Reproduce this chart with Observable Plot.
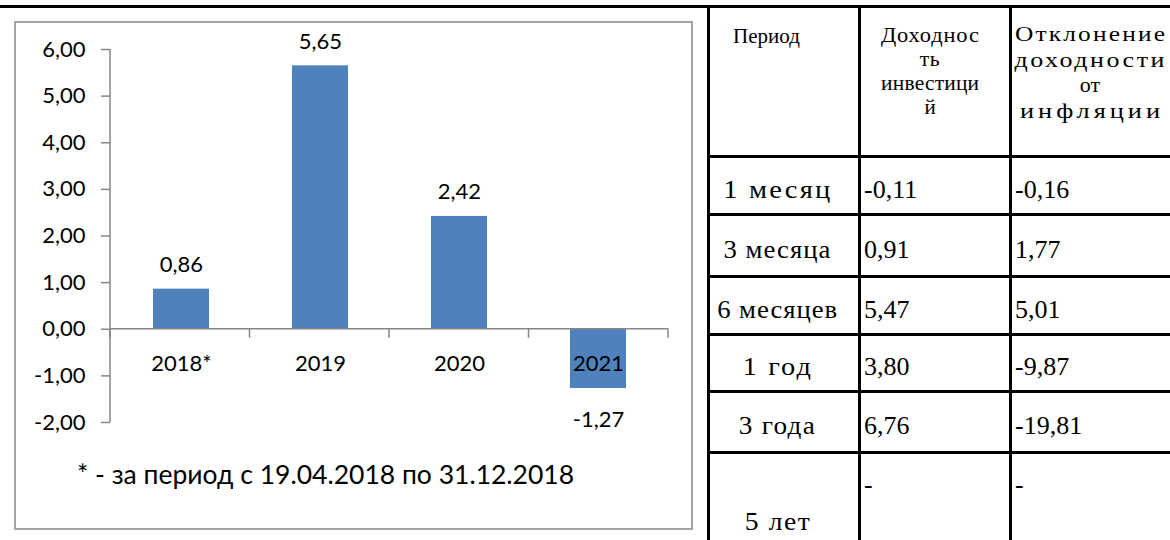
<!DOCTYPE html>
<html>
<head>
<meta charset="utf-8">
<script src="https://cdn.jsdelivr.net/npm/d3@7"></script>
<script src="https://cdn.jsdelivr.net/npm/@observablehq/plot@0.6"></script>
<style>
  html, body { margin: 0; padding: 0; background: #fff; }
  #page { position: relative; width: 1170px; height: 540px; overflow: hidden; background: #fff; }
  .hline { position: absolute; background: #000; height: 3px; }
  .vline { position: absolute; background: #000; width: 3px; }
  #box { position: absolute; left: 14px; top: 21px; width: 679px; height: 509px; box-sizing: border-box; border: 2px solid #a3a3a3; }
  #plot { position: absolute; left: 0; top: 0; }
  #foot { position: absolute; left: 77px; top: 458px; font-family: Lato, sans-serif; font-size: 26.5px; line-height: 32px; color: #000; white-space: nowrap; }
  .cell { position: absolute; font-family: "Liberation Serif", "Times New Roman", serif; color: #000; box-sizing: border-box; display: flex; white-space: nowrap; }
  .hdr { flex-direction: column; align-items: center; }
  .hdr span, .fit { display: inline-block; transform-origin: 50% 50%; }
</style>
</head>
<body>
<div id="page">
  <div id="box"></div>
  <div id="plot"></div>
  <div id="foot"></div>
</div>
<script>
// ---- chart data ----
const categories = ["2018*", "2019", "2020", "2021"];
const values = [0.86, 5.65, 2.42, -1.27];
const yTicks = [-2, -1, 0, 1, 2, 3, 4, 5, 6];
const footnote = "* - за период с 19.04.2018 по 31.12.2018";

// ---- table data ----
const headers = [["Период"], ["Доходнос", "ть", "инвестици", "й"], ["Отклонение", "доходности", "от", "инфляции"]];
const periods = ["1 месяц", "3 месяца", "6 месяцев", "1 год", "3 года", "5 лет"];
const returns = [-0.11, 0.91, 5.47, 3.80, 6.76, null];
const deviations = [-0.16, 1.77, 5.01, -9.87, -19.81, null];

const fmt = v => v == null ? "-" : v.toFixed(2).replace(".", ",");
const data = categories.map((c, i) => ({year: c, value: values[i]}));

const axisExtras = (index, scales, vals, dims) => {
  const g = d3.create("svg:g").attr("stroke", "#868686").attr("stroke-width", 1.5).attr("fill", "none");
  const x0 = dims.marginLeft, x1 = dims.width - dims.marginRight;
  const yd = scales.y.domain ? scales.y.domain() : [yTicks[0], yTicks[yTicks.length - 1]];
  g.append("line").attr("x1", x0).attr("x2", x0).attr("y1", scales.y(d3.max(yd))).attr("y2", scales.y(d3.min(yd)));
  const y0 = scales.y(0);
  g.append("line").attr("x1", x0).attr("x2", x1).attr("y1", y0).attr("y2", y0);
  const n = categories.length, step = (x1 - x0) / n;
  for (let k = 0; k <= n; k++) {
    const xx = x0 + k * step;
    g.append("line").attr("x1", xx).attr("x2", xx).attr("y1", y0).attr("y2", y0 + 9);
  }
  return g.node();
};

const chart = Plot.plot({
  width: 700,
  height: 540,
  marginLeft: 110,
  marginRight: 32,
  marginTop: 49,
  marginBottom: 118,
  style: {fontFamily: "Lato, sans-serif", fontSize: "22px", color: "#000", background: "transparent", overflow: "visible"},
  x: {domain: categories, paddingInner: 0.6, paddingOuter: 0.3, axis: null},
  y: {domain: [-2, 6], axis: null},
  marks: [
    Plot.barY(data, {x: "year", y: "value", fill: "#4F81BD"}),
    axisExtras,
    Plot.axisY(yTicks, {anchor: "left", tickSize: 9, tickPadding: 16, tickFormat: fmt, stroke: "#868686", strokeWidth: 1.5, fill: "#000", fontSize: 22, label: null}),
    Plot.text(data.filter(d => d.value >= 0), {x: "year", y: "value", text: d => fmt(d.value), dy: -24, fontSize: 22, fill: "#000"}),
    Plot.text(data.filter(d => d.value < 0), {x: "year", y: "value", text: d => fmt(d.value), dy: 31, fontSize: 22, fill: "#000"}),
    Plot.text(data, {x: "year", y: () => 0, text: "year", dy: 35, fontSize: 22, fill: "#000"})
  ]
});
document.getElementById("plot").appendChild(chart);
document.getElementById("foot").textContent = footnote;

// ---- table layout (positions only) ----
const page = document.getElementById("page");
const colX = [707, 858, 1009, 1170];
const rowY = [5, 155, 213, 275, 333, 390, 451, 540];
const hdrWidths = [[67], [98, 20, 98, 11], [150, 150, 19, 140]];
const periodWidths = [107, 107, 120, 68, 76, 65];

function addDiv(cls, style) {
  const d = document.createElement("div");
  d.className = cls;
  Object.assign(d.style, style);
  page.appendChild(d);
  return d;
}
// stretch a line to a target width: part glyph widening, part letter spacing
function fitSpan(parent, text, target) {
  const s = document.createElement("span");
  s.className = "fit";
  s.textContent = text;
  parent.appendChild(s);
  const w = s.getBoundingClientRect().width;
  const n = [...text].length;
  if (target && w > 0 && target > w) {
    const k = Math.min(1.2, Math.sqrt(target / w));
    s.style.transform = "scaleX(" + k + ")";
    if (n > 1) {
      const ls = (target / k - w) / (n - 1);
      s.style.letterSpacing = ls + "px";
      s.style.marginRight = (-ls) + "px";
    }
  }
  return s;
}

addDiv("hline", {left: "0px", top: rowY[0] + "px", width: "1170px"});
for (let i = 1; i < rowY.length - 1; i++) addDiv("hline", {left: colX[0] + "px", top: rowY[i] + "px", width: (1170 - colX[0]) + "px"});
for (let j = 0; j < colX.length - 1; j++) addDiv("vline", {left: colX[j] + "px", top: rowY[0] + "px", height: (540 - rowY[0]) + "px"});

// header
const hdrStyle = [
  {fontSize: "21px", lineHeight: "24px", paddingTop: "16px", cut: 36},
  {fontSize: "21px", lineHeight: "24px", paddingTop: "15px", cut: 10},
  {fontSize: "22px", lineHeight: "25.5px", paddingTop: "13px", cut: 2}
];
headers.forEach((lines, j) => {
  const left = colX[j] + 3, right = colX[j + 1];
  const st = hdrStyle[j];
  const c = addDiv("cell hdr", {left: left + "px", top: (rowY[0] + 3) + "px", width: (right - left - st.cut) + "px",
    height: (rowY[1] - rowY[0] - 3) + "px", fontSize: st.fontSize, lineHeight: st.lineHeight, paddingTop: st.paddingTop});
  lines.forEach((t, k) => fitSpan(c, t, hdrWidths[j][k]));
});

// body rows
periods.forEach((p, i) => {
  const top = rowY[i + 1] + 3, h = rowY[i + 2] - rowY[i + 1] - 3;
  const last = i === periods.length - 1;
  const c = addDiv("cell", {left: (colX[0] + 3) + "px", top: top + "px", width: (colX[1] - colX[0] - 3 - 14) + "px", height: h + "px",
    fontSize: "25px", lineHeight: "30px",
    justifyContent: "center", alignItems: last ? "flex-end" : "center", paddingTop: last ? "0" : "8px", paddingBottom: last ? "3px" : "0"});
  fitSpan(c, p, periodWidths[i]);
  [returns[i], deviations[i]].forEach((v, j) => {
    addDiv("cell", {left: (colX[j + 1] + 3) + "px", top: top + "px", width: (colX[j + 2] - colX[j + 1] - 3) + "px", height: h + "px",
      fontSize: "26px", lineHeight: "30px",
      justifyContent: "flex-start", alignItems: last ? "flex-start" : "center", paddingLeft: "3px", paddingTop: last ? "16px" : "8px"}).textContent = fmt(v);
  });
});
</script>
</body>
</html>
